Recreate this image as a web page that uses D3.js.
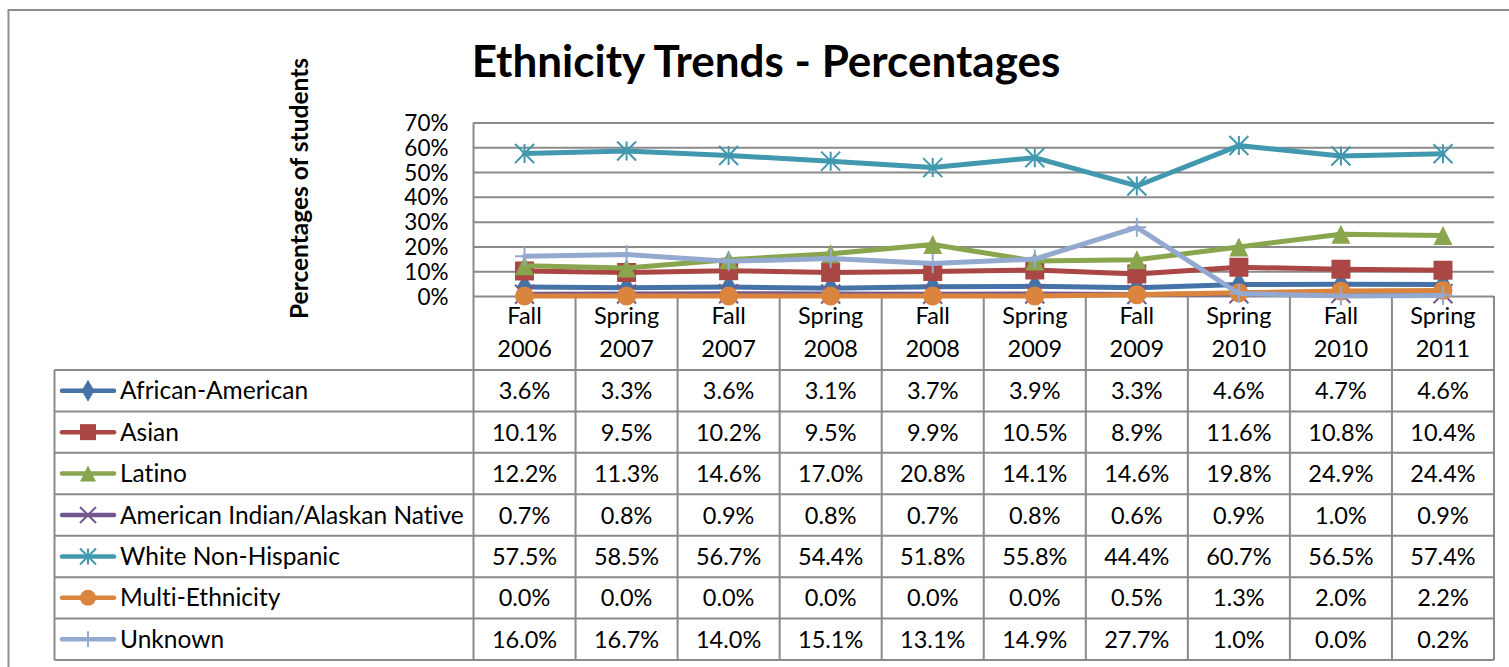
<!DOCTYPE html>
<html lang="en">
<head>
<meta charset="utf-8">
<title>Ethnicity Trends - Percentages</title>
<script src="https://cdn.jsdelivr.net/npm/d3@7"></script>
<style>
  body { margin: 0; background: #fff; }
  text { font-family: Lato, "Open Sans", sans-serif; fill: #000; font-variant-ligatures: none; }
</style>
</head>
<body>
<script>
// terms, in table order
var categories = ["Fall 2006", "Spring 2007", "Fall 2007", "Spring 2008", "Fall 2008",
                  "Spring 2009", "Fall 2009", "Spring 2010", "Fall 2010", "Spring 2011"];
var seriesNames = ["African-American", "Asian", "Latino", "American Indian/Alaskan Native",
                   "White Non-Hispanic", "Multi-Ethnicity", "Unknown"];
var africanAmerican = [3.6, 3.3, 3.6, 3.1, 3.7, 3.9, 3.3, 4.6, 4.7, 4.6];
var asian           = [10.1, 9.5, 10.2, 9.5, 9.9, 10.5, 8.9, 11.6, 10.8, 10.4];
var latino          = [12.2, 11.3, 14.6, 17.0, 20.8, 14.1, 14.6, 19.8, 24.9, 24.4];
var amIndian        = [0.7, 0.8, 0.9, 0.8, 0.7, 0.8, 0.6, 0.9, 1.0, 0.9];
var white           = [57.5, 58.5, 56.7, 54.4, 51.8, 55.8, 44.4, 60.7, 56.5, 57.4];
var multi           = [0.0, 0.0, 0.0, 0.0, 0.0, 0.0, 0.5, 1.3, 2.0, 2.2];
var unknown         = [16.0, 16.7, 14.0, 15.1, 13.1, 14.9, 27.7, 1.0, 0.0, 0.2];
var yTicks = [0, 10, 20, 30, 40, 50, 60, 70];

var colors  = ["#4572A7", "#AA4643", "#89A54E", "#71588F", "#4198AF", "#DB843D", "#93A9CF"];
var markers = ["diamond", "square", "triangle", "x", "star", "circle", "plus"];
var series = [africanAmerican, asian, latino, amIndian, white, multi, unknown].map(function (v, i) {
  return { name: seriesNames[i], values: v, color: colors[i], marker: markers[i] };
});

var W = 1509, H = 667;
var plotLeft = 473.5, plotRight = 1494, plotTop = 122.5, plotBottom = 296;
var rowTop = 370, rowH = 41.43, legLeft = 54.5;
var gridColor = "#8a8a8a";
var tableFont = "23.5px";
var legendFont = "24.5px";

var svg = d3.select("body").append("svg").attr("width", W).attr("height", H);

// outer chart border (left and top visible)
svg.append("path")
  .attr("d", "M8.5," + (H + 5) + "V10H" + (W + 5))
  .attr("fill", "none").attr("stroke", "#8f8f8f").attr("stroke-width", 2);

var x = d3.scaleBand().domain(categories).range([plotLeft, plotRight]);
var y = d3.scaleLinear().domain([0, 70]).range([plotBottom, plotTop]);

// title
svg.append("text")
  .attr("x", 766).attr("y", 77)
  .attr("text-anchor", "middle")
  .attr("font-size", "44px").attr("font-weight", "bold")
  .text("Ethnicity Trends - Percentages");

// y axis title
svg.append("text")
  .attr("transform", "translate(308,188.5) rotate(-90)")
  .attr("text-anchor", "middle")
  .attr("font-size", "24.5px").attr("font-weight", "bold")
  .text("Percentages of students");

// gridlines + tick labels
var yAxis = svg.append("g")
  .attr("transform", "translate(" + plotLeft + ",0)")
  .call(d3.axisLeft(y).tickValues(yTicks).tickSize(-(plotRight - plotLeft)).tickPadding(25)
        .tickFormat(function (d) { return d + "%"; }));
yAxis.select(".domain").remove();
yAxis.selectAll(".tick line").attr("stroke", gridColor).attr("stroke-width", 2);
yAxis.selectAll(".tick text").attr("font-size", "22.5px").attr("font-family", "Lato, sans-serif")
  .attr("fill", "#000").attr("dy", "0.36em");

// table grid
var nRows = series.length;
var tableBottom = rowTop + nRows * rowH;
var lines = svg.append("g").attr("stroke", gridColor).attr("stroke-width", 2);
// plot axis line down through table
lines.append("line").attr("x1", plotLeft).attr("x2", plotLeft).attr("y1", plotTop).attr("y2", tableBottom);
// column separators from the category axis down
categories.forEach(function (c) {
  var xr = x(c) + x.bandwidth();
  lines.append("line").attr("x1", xr).attr("x2", xr).attr("y1", plotBottom).attr("y2", tableBottom);
});
// legend column left border
lines.append("line").attr("x1", legLeft).attr("x2", legLeft).attr("y1", rowTop).attr("y2", tableBottom);
// row lines
d3.range(nRows + 1).forEach(function (i) {
  var yy = rowTop + i * rowH;
  lines.append("line").attr("x1", legLeft).attr("x2", plotRight).attr("y1", yy).attr("y2", yy);
});

// category header labels (two lines)
var head = svg.append("g").attr("font-size", tableFont).attr("text-anchor", "middle");
categories.forEach(function (c) {
  var parts = c.split(" ");
  var cx = x(c) + x.bandwidth() / 2;
  head.append("text").attr("x", cx).attr("y", 324).text(parts[0]);
  head.append("text").attr("x", cx).attr("y", 357).text(parts[1]);
});

// marker drawing
function markerPath(type, s) {
  var h = s / 2;
  if (type === "diamond") return d3.symbol().type(d3.symbolDiamond).size(s * s * 0.55)();
  if (type === "square") return d3.symbol().type(d3.symbolSquare).size(s * s)();
  if (type === "triangle") return "M0," + (-h) + "L" + h + "," + h + "L" + (-h) + "," + h + "Z";
  if (type === "circle") return d3.symbol().type(d3.symbolCircle).size(Math.PI * h * h)();
  if (type === "x") return "M" + (-h) + "," + (-h) + "L" + h + "," + h + "M" + h + "," + (-h) + "L" + (-h) + "," + h;
  if (type === "star") return "M" + (-h) + "," + (-h) + "L" + h + "," + h + "M" + h + "," + (-h) + "L" + (-h) + "," + h +
                             "M0," + (-h) + "V" + h;
  if (type === "plus") return "M0," + (-h) + "V" + h + "M" + (-h) + ",0H" + h;
}
function isOpen(type) { return type === "x" || type === "star" || type === "plus"; }
function drawMarker(g, type, color, s) {
  g.append("path").attr("d", markerPath(type, s))
    .attr("fill", isOpen(type) ? "none" : color)
    .attr("stroke", color)
    .attr("stroke-width", isOpen(type) ? 2 : 0);
}

// series lines and markers
var line = d3.line()
  .x(function (d, i) { return x(categories[i]) + x.bandwidth() / 2; })
  .y(function (d) { return y(d); });

series.forEach(function (s) {
  var g = svg.append("g");
  g.append("path").datum(s.values).attr("d", line)
    .attr("fill", "none").attr("stroke", s.color).attr("stroke-width", 5)
    .attr("stroke-linejoin", "round").attr("stroke-linecap", "round");
  s.values.forEach(function (v, i) {
    var mg = g.append("g").attr("transform", "translate(" + (x(categories[i]) + x.bandwidth() / 2) + "," + y(v) + ")");
    drawMarker(mg, s.marker, s.color, 19);
  });
});

// data table rows
var fmt = function (v) { return v.toFixed(1) + "%"; };
series.forEach(function (s, r) {
  var cy = rowTop + r * rowH + rowH / 2;
  var lg = svg.append("g");
  lg.append("line").attr("x1", 62).attr("x2", 114).attr("y1", cy).attr("y2", cy)
    .attr("stroke", s.color).attr("stroke-width", 4.5).attr("stroke-linecap", "round");
  drawMarker(lg.append("g").attr("transform", "translate(88," + cy + ")"), s.marker, s.color, 16);
  lg.append("text").attr("x", 120).attr("y", cy + 8.5).attr("font-size", legendFont).text(s.name);
  s.values.forEach(function (v, i) {
    svg.append("text")
      .attr("x", x(categories[i]) + x.bandwidth() / 2).attr("y", cy + 8.5)
      .attr("text-anchor", "middle").attr("font-size", tableFont)
      .text(fmt(v));
  });
});
</script>
</body>
</html>
